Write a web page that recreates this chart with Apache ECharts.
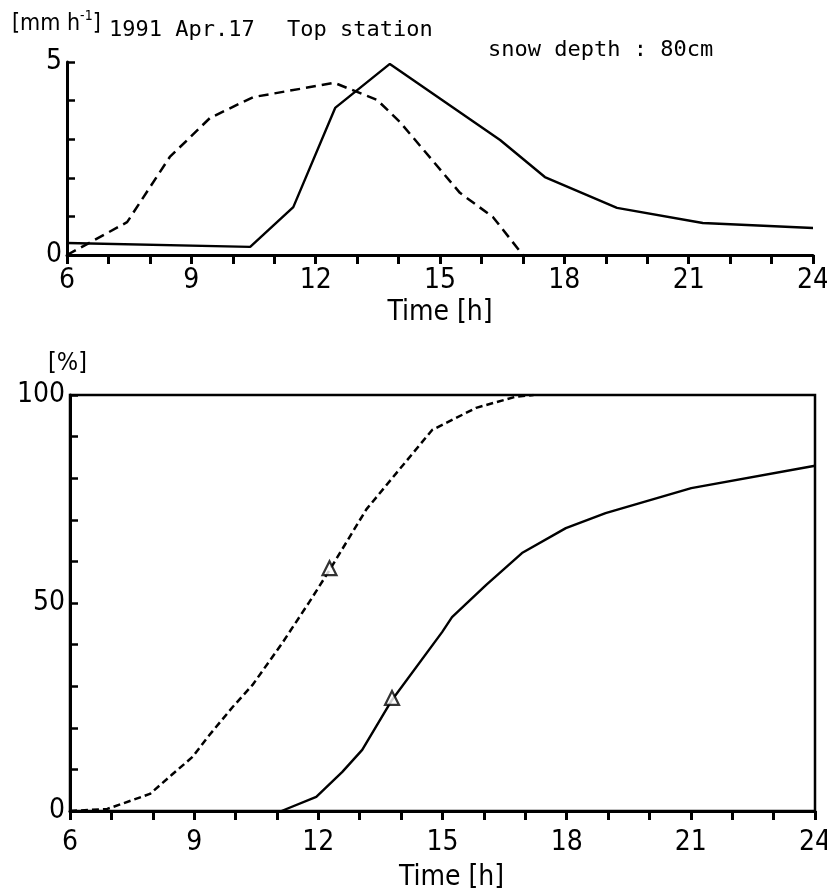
<!DOCTYPE html>
<html><head><meta charset="utf-8">
<script src="https://cdn.jsdelivr.net/npm/echarts@6/dist/echarts.min.js"></script>
<style>html,body{margin:0;padding:0;background:#fff}#c{width:827px;height:888px}</style>
</head><body><div id="c"></div>
<script>
// ---- data ----
const topSolidHours   = [6.0, 10.42, 11.46, 12.47, 13.79, 16.45, 17.53, 19.27, 21.34, 24.0];
const topSolidValues  = [0.31, 0.21, 1.24, 3.81, 4.95, 2.98, 2.02, 1.22, 0.83, 0.70];
const topDashedHours  = [6.0, 7.45, 8.48, 9.45, 10.49, 12.45, 13.48, 14.03, 15.48, 16.28, 17.0];
const topDashedValues = [0, 0.85, 2.54, 3.55, 4.09, 4.46, 4.02, 3.45, 1.61, 0.98, 0];

const botDashedHours  = [6.0, 6.9, 7.93, 8.46, 8.96, 9.33, 9.93, 10.41, 11.13, 11.78, 12.27, 13.16, 13.95, 14.75, 15.81, 16.77, 17.2];
const botDashedValues = [0, 0.5, 4.1, 8.7, 13.0, 17.8, 25.0, 30.3, 40.4, 50.2, 57.9, 72.5, 82, 91.6, 96.9, 99.6, 100];
const botSolidHours   = [11.11, 11.95, 12.58, 13.06, 13.78, 14.99, 15.23, 16.05, 16.92, 17.98, 18.94, 21.01, 24.0];
const botSolidValues  = [0, 3.4, 9.4, 14.7, 26.7, 43, 46.6, 54.3, 62, 68, 71.6, 77.6, 83];

const triangleHours   = [12.27, 13.78];
const triangleValues  = [57.9, 26.7];

const xLabelHours   = [6, 9, 12, 15, 18, 21, 24];
const topYLabels    = [0, 5];
const botYLabels    = [0, 50, 100];

const titleDate   = '1991 Apr.17';
const titleSite   = 'Top station';
const snowText    = 'snow depth : 80cm';
const botUnit     = '[%]';
const xName       = 'Time [h]';

// ---- chart ----
const NUM_FONT = "'Liberation Sans Narrow','DejaVu Sans Condensed','DejaVu Sans Mono',sans-serif";
const TXT_FONT = "'DejaVu Sans Mono',monospace";
function zip(a, b) { return a.map((x, i) => [x, b[i]]); }

function xAxisCfg(gridIndex, labelMargin, nameGap, namePad) {
  return {
    type: 'value', gridIndex, min: 6, max: 24, interval: 1,
    axisLine: { show: true, onZero: false, lineStyle: { color: '#000', width: 3 } },
    axisTick: { show: true, inside: false, length: 9, lineStyle: { color: '#000', width: 3 } },
    axisLabel: { show: true, margin: labelMargin, color: '#000', fontFamily: NUM_FONT, fontSize: 28,
      showMinLabel: true, showMaxLabel: true, hideOverlap: false,
      formatter: v => xLabelHours.includes(v) ? String(v) : '' },
    splitLine: { show: false },
    name: xName, nameLocation: 'middle', nameGap,
    nameTextStyle: { color: '#000', fontFamily: NUM_FONT, fontSize: 28, padding: namePad }
  };
}
function yAxisCfg(gridIndex, max, interval, labels) {
  return {
    type: 'value', gridIndex, min: 0, max, interval,
    axisLine: { show: true, onZero: false, lineStyle: { color: '#000', width: 3 } },
    axisTick: { show: true, inside: true, length: 8, lineStyle: { color: '#000', width: 2.5 } },
    axisLabel: { show: true, margin: 5, color: '#000', fontFamily: NUM_FONT, fontSize: 28,
      showMinLabel: true, showMaxLabel: true, hideOverlap: false,
      formatter: v => labels.includes(v) ? String(v) : '' },
    splitLine: { show: false }
  };
}

const option = {
  backgroundColor: '#fff',
  animation: false,
  grid: [
    { left: 67, right: 14, top: 62, bottom: 633, outerBoundsMode: 'none', containLabel: false },
    { left: 70, right: 12, top: 395, bottom: 77, outerBoundsMode: 'none', containLabel: false,
      show: true, borderColor: '#000', borderWidth: 2.5, backgroundColor: 'transparent' }
  ],
  xAxis: [ xAxisCfg(0, 12, 44, [0, 0, 0, 0]), xAxisCfg(1, 18, 53, [0, 0, 0, 18]) ],
  yAxis: [ yAxisCfg(0, 5, 1, topYLabels), yAxisCfg(1, 100, 10, botYLabels) ],
  graphic: [
    { type: 'text', left: 12, top: 9, style: {
        text: '{a|[mm h}{s|-1}{a|]}', fill: '#000',
        rich: {
          a: { fontFamily: NUM_FONT, fontSize: 23, lineHeight: 27, verticalAlign: 'bottom', fill: '#000' },
          s: { fontFamily: NUM_FONT, fontSize: 14, lineHeight: 27, verticalAlign: 'top', fill: '#000' }
        } } },
    { type: 'text', left: 109, top: 19, style: { text: titleDate, fill: '#000', font: "22px " + TXT_FONT } },
    { type: 'text', left: 287, top: 19, style: { text: titleSite, fill: '#000', font: "22px " + TXT_FONT } },
    { type: 'text', left: 488, top: 39, style: { text: snowText, fill: '#000', font: "22px " + TXT_FONT } },
    { type: 'text', left: 48, top: 351, style: { text: botUnit, fill: '#000', font: "25px " + NUM_FONT } }
  ],
  series: [
    { type: 'line', xAxisIndex: 0, yAxisIndex: 0, data: zip(topSolidHours, topSolidValues),
      symbol: 'none', lineStyle: { color: '#000', width: 2.4 } },
    { type: 'line', xAxisIndex: 0, yAxisIndex: 0, data: zip(topDashedHours, topDashedValues),
      symbol: 'none', lineStyle: { color: '#000', width: 2.5, type: [10, 6] } },
    { type: 'line', xAxisIndex: 1, yAxisIndex: 1, data: zip(botSolidHours, botSolidValues),
      symbol: 'none', lineStyle: { color: '#000', width: 2.4 } },
    { type: 'line', xAxisIndex: 1, yAxisIndex: 1, data: zip(botDashedHours, botDashedValues),
      symbol: 'none', lineStyle: { color: '#000', width: 2.5, type: [7, 4] } },
    { type: 'scatter', xAxisIndex: 1, yAxisIndex: 1, data: zip(triangleHours, triangleValues),
      symbol: 'triangle', symbolSize: 14, symbolOffset: [0, -2],
      itemStyle: { color: '#fff', borderColor: '#000', borderWidth: 2.2 }, z: 5 }
  ]
};
const chart = echarts.init(document.getElementById('c'), null, { renderer: 'canvas' });
chart.setOption(option);
</script></body></html>
